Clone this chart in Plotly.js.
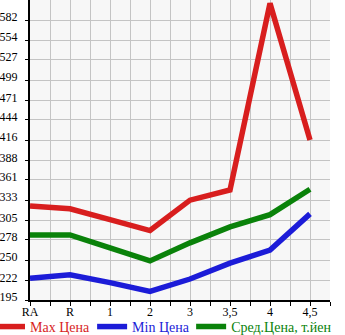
<!DOCTYPE html>
<html>
<head>
<meta charset="utf-8">
<script src="https://cdn.plot.ly/plotly-3.0.1.min.js"></script>
<style>html,body{margin:0;padding:0;background:#fff;}#chart{width:345px;height:335px;}</style>
</head>
<body>
<div id="chart"></div>
<script>
var categories = ["RA", "R", "1", "2", "3", "3,5", "4", "4,5"];
var maxPrice = [325, 321, 306, 291, 333, 347, 605, 416];
var minPrice = [225, 230, 219, 207, 224, 246, 264, 314];
var avgPrice = [285, 285, 267, 249, 274, 296, 313, 348];
var yTickLabels = [195, 222, 250, 278, 305, 333, 361, 388, 416, 444, 471, 499, 527, 554, 582];
var seriesNames = ["Max Цена", "Min Цена", "Сред.Цена, т.йен"];
var seriesColors = ["#d81e1e", "#1c1cd8", "#0a820a"];

var xIdx = categories.map(function (c, i) { return i; });
var allSeries = [maxPrice, minPrice, avgPrice];
var legendIds = ["legend", "legend2", "legend3"];
var traces = allSeries.map(function (vals, k) {
  return {
    x: xIdx, y: vals, type: "scatter", mode: "lines",
    name: '<span style="color:' + seriesColors[k] + '">' + seriesNames[k] + '</span>',
    line: {color: seriesColors[k], width: 5.5},
    legend: legendIds[k],
    hoverinfo: "skip"
  };
});

function legendAt(xc, indent) {
  return {
    orientation: "h", xref: "container", yref: "container",
    x: xc, y: 0.024, xanchor: "left", yanchor: "middle",
    font: {family: "Liberation Serif, serif", size: 14},
    itemwidth: 30, bgcolor: "rgba(0,0,0,0)", indentation: indent
  };
}

var layout = {
  width: 345, height: 335,
  margin: {l: 30, r: 15, t: 0, b: 35, autoexpand: false},
  paper_bgcolor: "#ffffff",
  plot_bgcolor: "#f7f7f7",
  font: {family: "Liberation Serif, serif", size: 12, color: "#000"},
  showlegend: true,
  legend: legendAt(0, -10),
  legend2: legendAt(0.267, 0),
  legend3: legendAt(0.554, 0),
  xaxis: {
    range: [0, 7.5], tickmode: "array", tickvals: xIdx, ticktext: categories,
    showgrid: true, gridcolor: "#c4c4c4", gridwidth: 1,
    ticks: "", showline: true, linecolor: "#000", linewidth: 2,
    zeroline: false, fixedrange: true,
    minor: {dtick: 0.5, tick0: 0.5, showgrid: true, gridcolor: "#c4c4c4", gridwidth: 1, ticks: "outside", ticklen: 4, tickcolor: "#000", tickwidth: 1}
  },
  yaxis: {
    range: [195, 195 + 15 * (582 - 195) / 14], tickmode: "array",
    tickvals: yTickLabels, ticktext: yTickLabels.map(String),
    showgrid: true, gridcolor: "#c4c4c4", gridwidth: 1,
    ticks: "outside", ticklen: 3, tickcolor: "#000",
    showline: true, linecolor: "#000", linewidth: 2,
    zeroline: false, fixedrange: true, ticklabelshift: -3, ticklabelstandoff: 5
  }
};

Plotly.newPlot("chart", traces, layout, {displayModeBar: false, staticPlot: true});
</script>
</body>
</html>
